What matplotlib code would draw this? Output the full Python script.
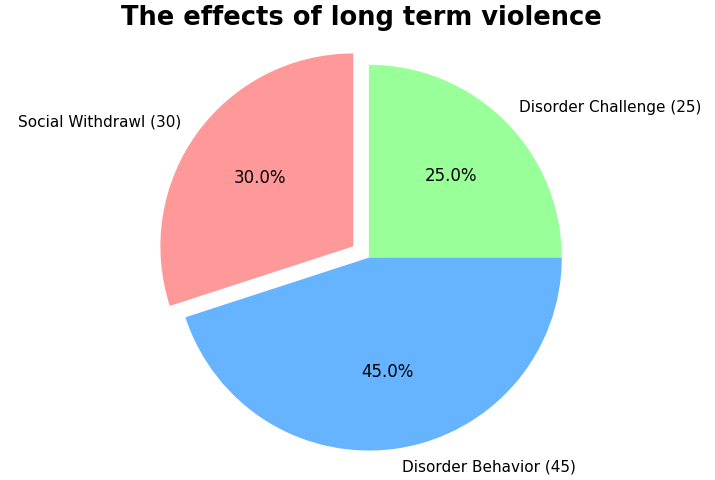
import matplotlib
matplotlib.use("Agg")
import matplotlib.pyplot as plt

# Data
categories = ["Disorder Challenge", "Social Withdrawl", "Disorder Behavior"]
values = [25, 30, 45]
colors = ["#99ff99", "#ff9999", "#66b3ff"]
explode = [0, 0.1, 0]

labels = [f"{c} ({v})" for c, v in zip(categories, values)]

fig, ax = plt.subplots(figsize=(7.15, 4.8), dpi=100)
wedges, texts, autotexts = ax.pie(values, labels=labels, colors=colors, explode=explode,
                                  autopct="%1.1f%%", startangle=0, counterclock=True,
                                  textprops={"fontsize": 11})
for t in autotexts:
    t.set_fontsize(12)
ax.axis("equal")

# title placed in figure coords so it is not clipped
fig.text(0.506, 0.963, "The effects of long term violence", fontsize=18.5,
         fontweight="bold", ha="center", va="center")

plt.subplots_adjust(left=0.025, right=0.985, top=0.93, bottom=0.02)
plt.savefig("out.png", dpi=100)
plt.close()
